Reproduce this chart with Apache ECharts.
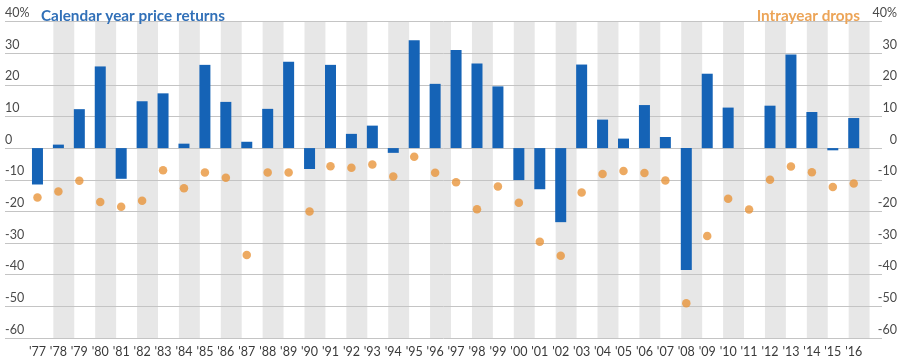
<!DOCTYPE html>
<html>
<head>
<meta charset="utf-8">
<script src="https://cdn.jsdelivr.net/npm/echarts@6/dist/echarts.min.js"></script>
<style>
html,body{margin:0;padding:0;background:#fff;}
#chart{width:901px;height:362px;}
</style>
</head>
<body>
<div id="chart"></div>
<script>
const years = ["'77","'78","'79","'80","'81","'82","'83","'84","'85","'86","'87","'88","'89","'90","'91","'92","'93","'94","'95","'96","'97","'98","'99","'00","'01","'02","'03","'04","'05","'06","'07","'08","'09","'10","'11","'12","'13","'14","'15","'16"];
const priceReturns = [-11.5,1.1,12.3,25.8,-9.7,14.8,17.3,1.4,26.3,14.6,2.0,12.4,27.3,-6.6,26.3,4.5,7.1,-1.5,34.1,20.3,31.0,26.7,19.5,-10.1,-13.0,-23.4,26.4,9.0,3.0,13.6,3.5,-38.5,23.5,12.8,0.0,13.4,29.6,11.4,-0.7,9.5];
const intrayearDrops = [-15.6,-13.7,-10.3,-17,-18.5,-16.6,-7,-12.7,-7.7,-9.4,-33.8,-7.7,-7.7,-20,-5.7,-6.2,-5.2,-9,-2.7,-7.8,-10.8,-19.3,-12.1,-17.3,-29.6,-34,-14,-8.2,-7.2,-7.9,-10.2,-49,-27.8,-16,-19.4,-10,-5.8,-7.6,-12.3,-11.2];
const yMin = -60, yMax = 40, yStep = 10;
const topTickLabel = '40%';
const leftTitle = 'Calendar year price returns';
const rightTitle = 'Intrayear drops';

const chart = echarts.init(document.getElementById('chart'), null, {renderer:'canvas'});
const gTop = 21.5, gBottom = 24;
const labelFmt = v => (v === yMax ? topTickLabel : String(v));
const labelStyle = {color:'#4a4a4a', fontFamily:'Lato', fontSize:12.5, verticalAlign:'bottom', padding:[0,0,2,0]};
chart.setOption({
  animation:false,
  backgroundColor:'#fff',
  title:[
    {text:leftTitle, left:36, top:4, textStyle:{color:'#3170b8', fontFamily:'Lato', fontWeight:'bold', fontSize:15.3}},
    {text:rightTitle, right:36, top:4, textStyle:{color:'#eca457', fontFamily:'Lato', fontWeight:'bold', fontSize:15.3}}
  ],
  grid:[
    {left:27, right:36.8, top:gTop, bottom:gBottom},
    {left:32.4, right:31.4, top:gTop, bottom:gBottom},
    {left:5, right:19, top:gTop, bottom:gBottom}
  ],
  xAxis:[
    {type:'category', gridIndex:0, data:years, axisLine:{show:false}, axisTick:{show:false}, splitLine:{show:false},
     axisLabel:{interval:0, color:'#3a3a3a', fontFamily:'Lato', fontSize:12.5, margin:7}},
    {type:'category', gridIndex:1, data:years, axisLine:{show:false}, axisTick:{show:false}, axisLabel:{show:false}, splitLine:{show:false},
     splitArea:{show:true, interval:0, areaStyle:{color:['rgba(255,255,255,0)','#e7e7e7']}}, z:0},
    {type:'value', gridIndex:2, min:0, max:1, show:false}
  ],
  yAxis:[
    {type:'value', gridIndex:0, min:yMin, max:yMax, interval:yStep, show:false},
    {type:'value', gridIndex:1, min:yMin, max:yMax, interval:yStep, show:false},
    {type:'value', gridIndex:2, min:yMin, max:yMax, interval:yStep, position:'left', z:1,
     axisLine:{show:false}, axisTick:{show:false},
     splitLine:{show:true, lineStyle:{color:'#c4c4c4', width:1}},
     axisLabel:Object.assign({formatter:labelFmt, align:'left', margin:0}, labelStyle)},
    {type:'value', gridIndex:2, min:yMin, max:yMax, interval:yStep, position:'right', z:1,
     axisLine:{show:false}, axisTick:{show:false}, splitLine:{show:false},
     axisLabel:Object.assign({formatter:labelFmt, align:'right', margin:15}, labelStyle)}
  ],
  series:[
    {type:'bar', name:leftTitle, xAxisIndex:0, yAxisIndex:0, data:priceReturns, barWidth:11,
     itemStyle:{color:'#1563b6'}, z:3},
    {type:'scatter', name:rightTitle, xAxisIndex:0, yAxisIndex:0, data:intrayearDrops, symbol:'circle', symbolSize:8.5,
     itemStyle:{color:'#e8953b'}, z:4}
  ]
});
</script>
</body>
</html>
